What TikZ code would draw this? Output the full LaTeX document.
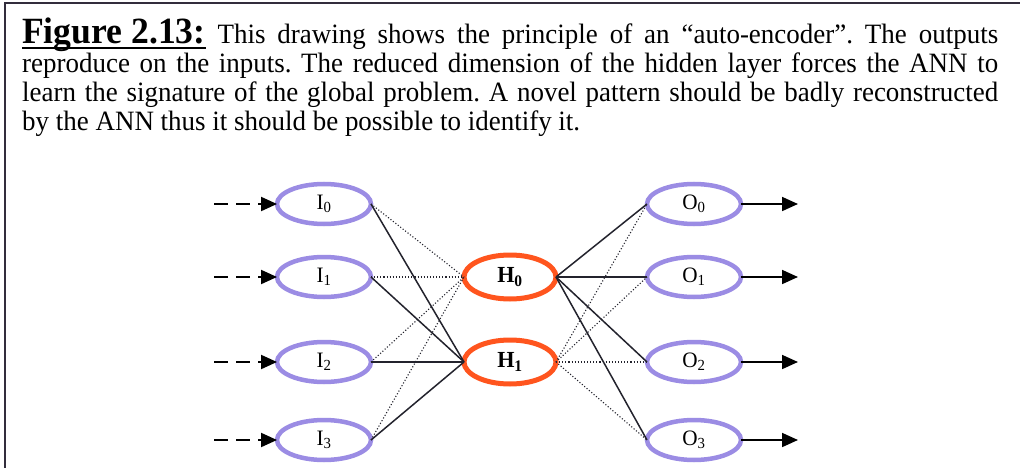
\documentclass[tikz,border=0pt]{standalone}
\usepackage{fontspec}
\setmainfont{Liberation Serif}[FakeStretch=0.963]
\usetikzlibrary{arrows.meta,shapes.geometric}
\definecolor{purp}{RGB}{155,140,228}
\definecolor{orng}{RGB}{255,85,30}
\definecolor{wire}{RGB}{35,35,45}
\definecolor{frame}{RGB}{50,45,60}
\tikzset{
  inn/.style={ellipse, draw=purp, line width=4.5pt, minimum width=94pt, minimum height=40pt, inner sep=0pt, outer sep=0pt, font=\fontsize{22}{22}\selectfont},
  hid/.style={ellipse, draw=orng, line width=5pt, minimum width=92pt, minimum height=44pt, inner sep=0pt, outer sep=0pt, font=\fontsize{23}{23}\selectfont\bfseries},
  solidw/.style={draw=wire, line width=1.5pt},
  dotw/.style={draw=wire, line width=1.1pt, dotted},
  inarrow/.style={draw=black, line width=2pt, dash pattern=on 14pt off 8pt, -{Triangle[length=16pt,width=14pt]}},
  outarrow/.style={draw=black, line width=1.8pt, -{Triangle[length=16pt,width=14pt]}},
  txt/.style={anchor=base west, inner sep=0pt, font=\fontsize{28}{29}\selectfont\frenchspacing}
}
\begin{document}
\begin{tikzpicture}[x=1pt,y=-1pt]
\useasboundingbox (0,0) rectangle (1020,468);
\fill[white] (0,0) rectangle (1020,468);
% frame
\coordinate (fl) at (5,468);
\coordinate (ftl) at (5,3);
\coordinate (ftr) at (1020,3);
\draw[frame, line width=2pt] (fl) -- (ftl) -- (ftr);
% caption
\node[txt] (l1) at (22,44) {\makebox[976pt][s]{{\sbox0{\fontsize{37}{37}\selectfont\bfseries Figure 2.13:}\rlap{\rule[-5pt]{\wd0}{2pt}}\usebox0} This drawing shows the principle of an “auto-encoder”. The outputs}};
\node[txt] (l2) at (22,73) {\makebox[976pt][s]{reproduce on the inputs. The reduced dimension of the hidden layer forces the ANN to}};
\node[txt] (l3) at (22,102) {\makebox[976pt][s]{learn the signature of the global problem. A novel pattern should be badly reconstructed}};
\node[txt] (l4) at (22,131) {by the ANN thus it should be possible to identify it.};
% nodes
\node[inn] (I0) at (324,204) {I\textsubscript{0}};
\node[inn] (I1) at (324,277) {I\textsubscript{1}};
\node[inn] (I2) at (324,362) {I\textsubscript{2}};
\node[inn] (I3) at (324,440) {I\textsubscript{3}};
\node[hid] (H0) at (510,277) {H\textsubscript{0}};
\node[hid] (H1) at (510,362) {H\textsubscript{1}};
\node[inn] (O0) at (694,204) {O\textsubscript{0}};
\node[inn] (O1) at (694,277) {O\textsubscript{1}};
\node[inn] (O2) at (694,362) {O\textsubscript{2}};
\node[inn] (O3) at (694,440) {O\textsubscript{3}};
% connectors
\foreach \i in {0,1,2,3}{
  \draw[solidw] (I\i.east) -- (H1.west);
  \draw[dotw] (I\i.east) -- (H0.west);
  \draw[solidw] (H0.east) -- (O\i.west);
  \draw[dotw] (H1.east) -- (O\i.west);
}
% in/out arrows
\foreach \i/\y in {0/204,1/277,2/362,3/440}{
  \coordinate (s\i) at (214,\y);
  \coordinate (e\i) at (798,\y);
  \draw[inarrow] (s\i) -- (I\i.west);
  \draw[outarrow] (O\i.east) -- (e\i);
}
\end{tikzpicture}
\end{document}
